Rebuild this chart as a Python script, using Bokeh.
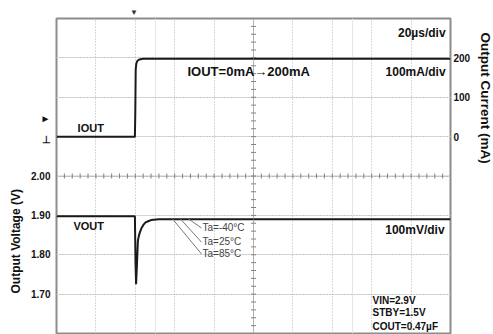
import numpy as np
from math import pi
from bokeh.plotting import figure
from bokeh.models import (Range1d, LinearAxis, FixedTicker, Grid, Label, Span, Title,
                          PrintfTickFormatter)
from bokeh.embed import file_html
from bokeh.resources import INLINE

# ---------------- data ----------------
# time axis: 20 us/div, 10 divisions
time_divs = [20, 40, 60, 80, 100, 120, 140, 160, 180]
# output current trace (us, mA)
i_time = [0, 39.8, 40.0, 40.2, 40.5, 41.0, 42.0, 44.0, 200]
i_ma = [0, 0, 60, 170, 185, 192, 196, 198, 198]
# output voltage trace (us, V)
v_time = [0, 39.8, 40.1, 40.4, 40.8, 41.3, 41.8, 42.4, 43.2, 44.0, 45.2, 46.5, 48.0, 52.0, 200]
v_volt = [1.898, 1.898, 1.78, 1.725, 1.77, 1.835, 1.848, 1.858, 1.868, 1.875,
          1.882, 1.885, 1.888, 1.890, 1.890]
# axis ticks
current_ticks = [0, 100, 200]
voltage_ticks = [1.70, 1.80, 1.90, 2.00]
current_divs = [-400, -300, -200, -100, 0, 100, 200]
# temperature labels
ta_labels = ["Ta=-40°C", "Ta=25°C", "Ta=85°C"]

FONT = "Liberation Sans"
GRID = "#b0b0b0"
TRACE = "#1a1a1a"

p = figure(frame_width=394, frame_height=315,
           x_range=Range1d(0, 200), y_range=Range1d(-500, 300),
           x_axis_location=None, y_axis_location=None,
           min_border_left=56, min_border_right=43, min_border_top=18, min_border_bottom=1,
           output_backend="svg", toolbar_location=None,
           background_fill_color="white", border_fill_color="white")
p.extra_y_ranges = {"v": Range1d(1.60, 2.40)}
p.outline_line_color = "#8c8c8c"
p.outline_line_width = 2

# grids (dotted, one line per division)
p.add_layout(Grid(dimension=0, ticker=FixedTicker(ticks=time_divs),
                  grid_line_color=GRID, grid_line_dash="1 2", grid_line_width=1))
p.add_layout(Grid(dimension=1, ticker=FixedTicker(ticks=current_divs),
                  grid_line_color=GRID, grid_line_dash="1 2", grid_line_width=1))

# centre crosshair with sub-division ticks
cx = time_divs[4]
cy = current_divs[3]
p.add_layout(Span(location=cx, dimension="height", line_color="#909090", line_dash="1 1", line_width=1))
p.add_layout(Span(location=cy, dimension="width", line_color="#909090", line_dash="1 1", line_width=1))
sub_t = np.arange(0, 200.01, 4)
sub_i = np.arange(-500, 300.01, 20)
p.scatter(sub_t, np.full(len(sub_t), cy), marker="dash", angle=pi / 2, size=5,
          line_color="#808080", line_width=1)
p.scatter(np.full(len(sub_i), cx), sub_i, marker="dash", size=5,
          line_color="#808080", line_width=1)

# traces
p.line(i_time, i_ma, line_color=TRACE, line_width=2)
p.line(v_time, v_volt, line_color=TRACE, line_width=2, y_range_name="v")


def bare(ax, standoff, size="10px"):
    ax.axis_line_color = None
    ax.major_tick_line_color = None
    ax.minor_tick_line_color = None
    ax.major_tick_in = 0
    ax.major_tick_out = 0
    ax.minor_tick_in = 0
    ax.minor_tick_out = 0
    ax.major_label_standoff = standoff
    ax.major_label_text_font = FONT
    ax.major_label_text_font_style = "bold"
    ax.major_label_text_font_size = size
    ax.major_label_text_color = "#111111"


# channel markers on the left (current 46 mA / -7 mA expressed on the voltage scale)
marker_v = [2.146, 2.093]
left = LinearAxis(y_range_name="v", ticker=FixedTicker(ticks=voltage_ticks + marker_v),
                  formatter=PrintfTickFormatter(format="%.2f"),
                  major_label_overrides={marker_v[0]: "►", marker_v[1]: "⊥"})
bare(left, 6)
p.add_layout(left, "left")

right = LinearAxis(ticker=FixedTicker(ticks=current_ticks))
bare(right, 3)
p.add_layout(right, "right")

# axis titles as side titles (offset positions them along the side)
p.add_layout(Title(text="Output Voltage (V)", align="left", offset=40, standoff=10,
                   vertical_align="middle", text_font=FONT, text_font_style="bold",
                   text_font_size="12px", text_color="#111111"), "left")
p.add_layout(Title(text="Output Current (mA)", align="left", offset=14, standoff=6,
                   vertical_align="middle", text_font=FONT, text_font_style="bold",
                   text_font_size="13.5px", text_color="#111111"), "right")

# trigger marker above the frame
trig = 39.3
top = LinearAxis(ticker=FixedTicker(ticks=[trig]), major_label_overrides={trig: "▼"})
bare(top, 2, "8px")
top.major_label_text_color = "#333333"
p.add_layout(top, "above")


def lab(x, y, text, size, align="left", rng="default", style="bold", color="#111111"):
    p.add_layout(Label(x=x, y=y, text=text, y_range_name=rng, text_align=align,
                       text_baseline="middle", text_font=FONT, text_font_style=style,
                       text_font_size=size, text_color=color))


lab(197.5, 262, "20µs/div", "12px", "right")
lab(197.5, 165, "100mA/div", "12px", "right")
lab(66.5, 165, "IOUT=0mA→200mA", "13px")
lab(10.7, 23, "IOUT", "11px")
lab(8.6, 1.872, "VOUT", "11px", rng="v")
lab(197, 1.862, "100mV/div", "12px", "right", rng="v")
lab(160.4, 1.684, "VIN=2.9V", "10px", rng="v")
lab(160.4, 1.654, "STBY=1.5V", "10px", rng="v")
lab(160.4, 1.618, "COUT=0.47µF", "10px", rng="v")

# temperature labels with leader lines
ta_y = [1.870, 1.834, 1.804]
lead_x0 = [67.0, 62.9, 58.9]
for txt, yy in zip(ta_labels, ta_y):
    lab(74.1, yy, txt, "10px", style="normal", rng="v", color="#444444")
p.segment(x0=lead_x0, y0=[1.891] * 3, x1=[73.6] * 3, y1=[y - 0.002 for y in ta_y],
          line_color="#777777", line_width=1, y_range_name="v")

open("out.html", "w").write(file_html(p, INLINE))
